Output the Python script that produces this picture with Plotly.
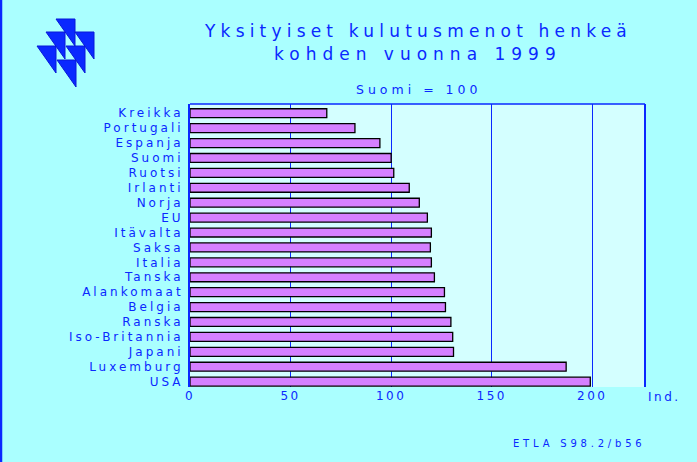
import plotly.graph_objects as go

countries = ["Kreikka", "Portugali", "Espanja", "Suomi", "Ruotsi", "Irlanti", "Norja", "EU",
             "Itävalta", "Saksa", "Italia", "Tanska", "Alankomaat", "Belgia", "Ranska",
             "Iso-Britannia", "Japani", "Luxemburg", "USA"]
values = [68, 82, 94.4, 100, 101.3, 109, 114, 118, 120, 119.5, 120, 121.5, 126.5, 127, 129.7,
          130.6, 131, 187, 199]
x_ticks = [0, 50, 100, 150, 200]

BLUE = "#0a28ff"
FONT = "DejaVu Sans"
W, H = 697, 462
L, R, T, B = 190, 52, 104, 75
PW, PH = W - L - R, H - T - B


def px(x):
    return (x - L) / PW


def py(y):
    return (H - B - y) / PH


def sp(text, ls):
    return f'<span style="letter-spacing:{ls}px">{text}</span>'


n = len(countries)
fig = go.Figure()
fig.add_trace(go.Bar(
    x=values, y=countries, orientation="h",
    marker=dict(color="#d580ff", line=dict(color="black", width=1.3)),
    width=0.6, hoverinfo="x+y",
))

fig.update_layout(
    width=W, height=H,
    margin=dict(l=L, r=R, t=T, b=B, pad=0),
    paper_bgcolor="#aaffff", plot_bgcolor="#d4ffff",
    showlegend=False,
    font=dict(family=FONT, color=BLUE, size=12),
)
fig.update_xaxes(
    range=[0, 226.2], tickvals=x_ticks,
    ticktext=[sp(str(v), 2.5) for v in x_ticks],
    showgrid=True, gridcolor=BLUE, gridwidth=1.2,
    zeroline=False, showline=False, ticks="", ticklen=0,
    tickfont=dict(family=FONT, size=12, color=BLUE),
)
fig.update_yaxes(
    categoryorder="array", categoryarray=countries,
    range=[n - 1 + 0.36, -0.62],
    tickvals=countries, ticktext=[sp(c, 3) for c in countries],
    showgrid=False, zeroline=False, showline=True, linecolor=BLUE, linewidth=2,
    ticks="", ticklabelstandoff=2,
    tickfont=dict(family=FONT, size=12, color=BLUE),
)

shapes = []
# plot frame: top and right lines
shapes.append(dict(type="line", xref="paper", yref="paper", x0=0, x1=1, y0=1, y1=1,
                   line=dict(color=BLUE, width=1.5)))
shapes.append(dict(type="line", xref="paper", yref="paper", x0=px(645), x1=px(645), y0=0, y1=1,
                   line=dict(color=BLUE, width=2)))
# left page border
shapes.append(dict(type="line", xref="paper", yref="paper", x0=px(1), x1=px(1), y0=py(0), y1=py(H),
                   line=dict(color=BLUE, width=2.5)))
# logo triangles
tris = [(56, 19), (46, 32), (75, 32), (37, 46), (66, 46), (57, 60)]
for (tx, ty) in tris:
    x0, x1 = px(tx), px(tx + 19)
    y0, y1 = py(ty), py(ty + 27)
    shapes.append(dict(type="path", xref="paper", yref="paper",
                       path=f"M {x0} {y0} L {x1} {y0} L {x1} {y1} Z",
                       fillcolor=BLUE, line=dict(color="#0818d8", width=1)))

annotations = [
    dict(text=sp("Yksityiset kulutusmenot henkeä", 5.2), x=px(418), y=py(31)),
    dict(text=sp("kohden vuonna 1999", 6.0), x=px(418), y=py(53.5)),
]
title_annots = []
for a in annotations:
    title_annots.append(dict(a, xref="paper", yref="paper", showarrow=False,
                             xanchor="center", yanchor="middle",
                             font=dict(family=FONT, size=17, color=BLUE)))
title_annots.append(dict(text=sp("Suomi = 100", 4.0), x=px(418), y=py(89), xref="paper", yref="paper",
                         showarrow=False, xanchor="center", yanchor="middle",
                         font=dict(family=FONT, size=12.5, color=BLUE)))
title_annots.append(dict(text=sp("Ind.", 2.5), x=px(646), y=py(397), xref="paper", yref="paper",
                         showarrow=False, xanchor="left", yanchor="middle",
                         font=dict(family=FONT, size=12, color=BLUE)))
title_annots.append(dict(text=sp("ETLA S98.2/b56", 3.8), x=px(511), y=py(443.5), xref="paper", yref="paper",
                         showarrow=False, xanchor="left", yanchor="middle",
                         font=dict(family=FONT, size=10, color=BLUE)))

fig.update_layout(shapes=shapes, annotations=title_annots)
fig.write_html(
    "out.html",
    config={"displayModeBar": False},
    post_script="document.body.style.margin='0';document.body.style.overflow='hidden';",
)
